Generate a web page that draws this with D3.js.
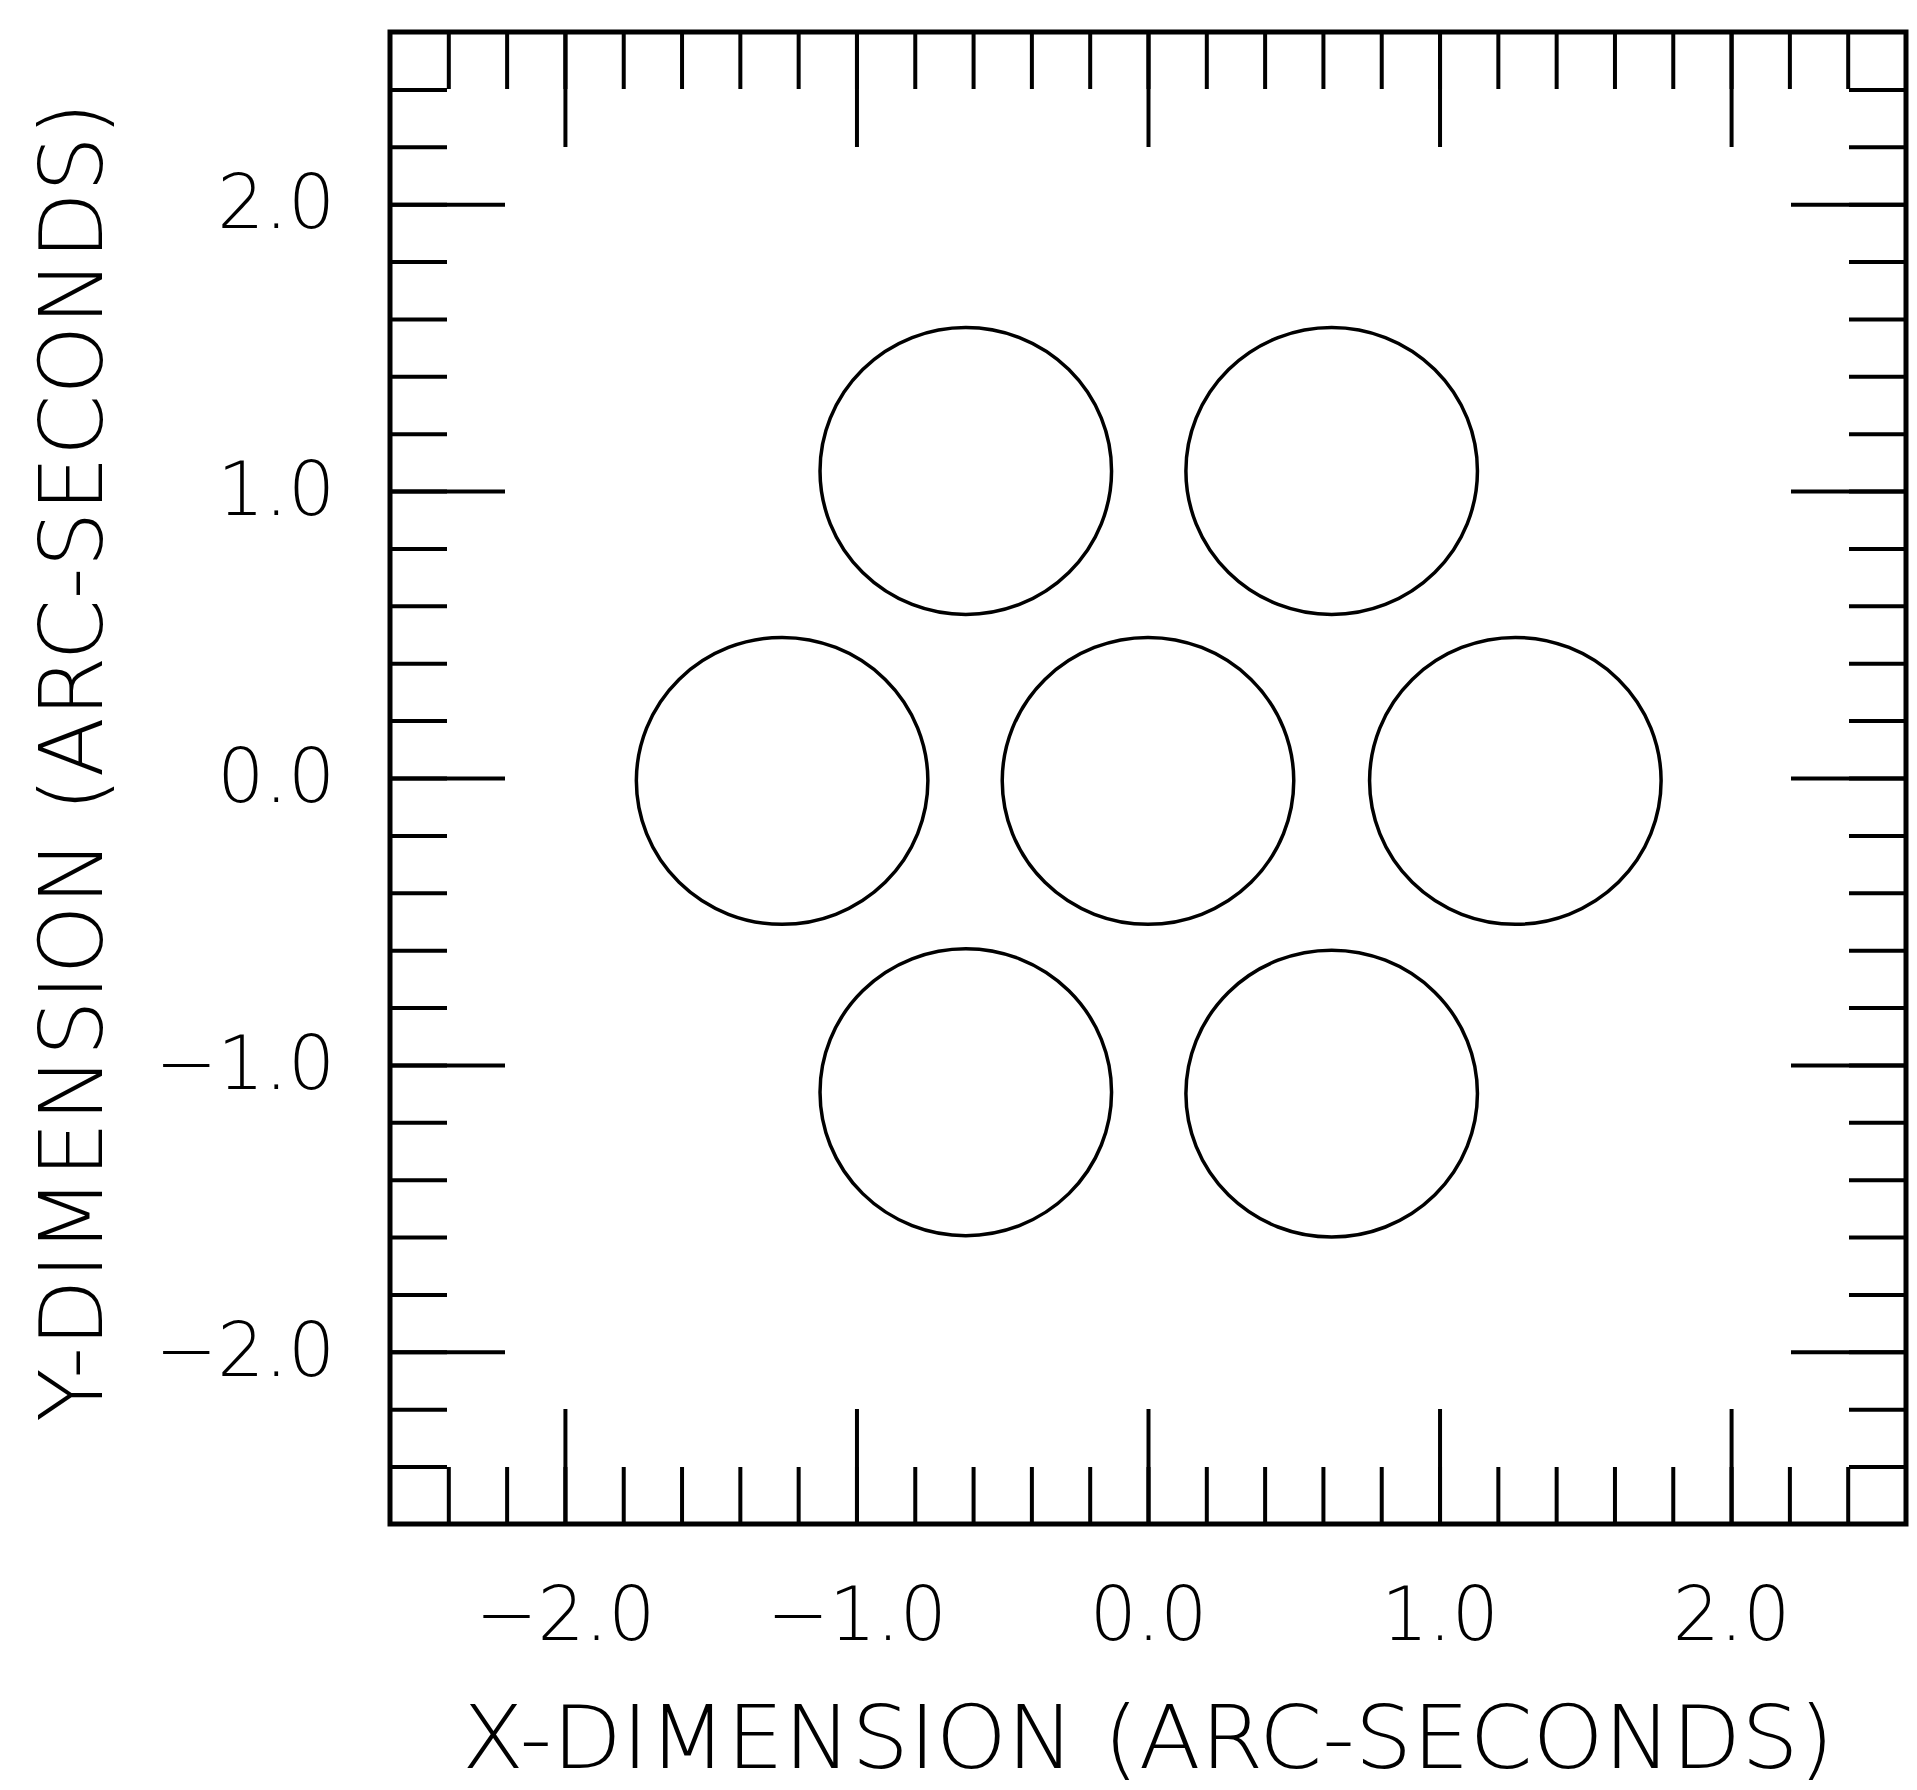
<!DOCTYPE html>
<html>
<head>
<meta charset="utf-8">
<script src="https://cdn.jsdelivr.net/npm/d3@7"></script>
<style>
  html, body { margin: 0; padding: 0; background: #fff; }
  svg { display: block; }
  .axis path { display: none; }
  .axis line { stroke: #000; stroke-width: 4; }
  .axis text, .title { font-family: "DejaVu Sans", sans-serif; font-weight: 200; fill: #000; }
</style>
</head>
<body>
<div id="chart"></div>
<script>
const W = 1917, H = 1790;

// aperture centres in arc-seconds
const circleX = [-0.625, 0.63, -1.255, 0.0, 1.26, -0.625, 0.63];
const circleY = [1.07, 1.07, -0.01, -0.01, -0.01, -1.095, -1.10];
const circleR = 0.5;

const xDomain = [-2.6, 2.6];
const yDomain = [-2.6, 2.6];
const majorTicks = [-2, -1, 0, 1, 2];
const tickLabels = ['\u22122.0', '\u22121.0', '0.0', '1.0', '2.0'];
const minorTicks = d3.range(-24, 25, 2).map((d) => d / 10);

const xTitle = 'X-DIMENSION (ARC-SECONDS)';
const yTitle = 'Y-DIMENSION (ARC-SECONDS)';

const MINOR = 57, MAJOR = 115;

const frame = { left: 390, right: 1906, top: 32, bottom: 1524 };

const x = d3.scaleLinear().domain(xDomain).range([frame.left, frame.right]);
const y = d3.scaleLinear().domain(yDomain).range([frame.bottom, frame.top]);

const svg = d3.select('#chart').append('svg')
  .attr('width', W)
  .attr('height', H);

const labelOf = (d) => tickLabels[majorTicks.indexOf(d)];

// minor ticks on all four sides, pointing inward
svg.append('g').attr('class', 'axis')
  .attr('transform', `translate(0,${frame.bottom})`)
  .call(d3.axisBottom(x).tickValues(minorTicks).tickSize(-MINOR).tickFormat(''));
svg.append('g').attr('class', 'axis')
  .attr('transform', `translate(0,${frame.top})`)
  .call(d3.axisTop(x).tickValues(minorTicks).tickSize(-MINOR).tickFormat(''));
svg.append('g').attr('class', 'axis')
  .attr('transform', `translate(${frame.left},0)`)
  .call(d3.axisLeft(y).tickValues(minorTicks).tickSize(-MINOR).tickFormat(''));
svg.append('g').attr('class', 'axis')
  .attr('transform', `translate(${frame.right},0)`)
  .call(d3.axisRight(y).tickValues(minorTicks).tickSize(-MINOR).tickFormat(''));

// major ticks, labelled on bottom and left
svg.append('g').attr('class', 'axis')
  .attr('transform', `translate(0,${frame.bottom})`)
  .call(d3.axisBottom(x).tickValues(majorTicks).tickSize(-MAJOR).tickPadding(63).tickFormat(labelOf))
  .selectAll('text').attr('font-size', 74);
svg.append('g').attr('class', 'axis')
  .attr('transform', `translate(0,${frame.top})`)
  .call(d3.axisTop(x).tickValues(majorTicks).tickSize(-MAJOR).tickFormat(''));
svg.append('g').attr('class', 'axis')
  .attr('transform', `translate(${frame.left},0)`)
  .call(d3.axisLeft(y).tickValues(majorTicks).tickSize(-MAJOR).tickPadding(55).tickFormat(labelOf))
  .selectAll('text').attr('font-size', 74);
svg.append('g').attr('class', 'axis')
  .attr('transform', `translate(${frame.right},0)`)
  .call(d3.axisRight(y).tickValues(majorTicks).tickSize(-MAJOR).tickFormat(''));

// frame
svg.append('rect')
  .attr('x', frame.left)
  .attr('y', frame.top)
  .attr('width', frame.right - frame.left)
  .attr('height', frame.bottom - frame.top)
  .attr('fill', 'none')
  .attr('stroke', '#000')
  .attr('stroke-width', 5);

// apertures
svg.append('g')
  .selectAll('ellipse')
  .data(circleX.map((cx, i) => ({ cx, cy: circleY[i] })))
  .join('ellipse')
  .attr('cx', (d) => x(d.cx))
  .attr('cy', (d) => y(d.cy))
  .attr('rx', x(circleR) - x(0))
  .attr('ry', y(0) - y(circleR))
  .attr('fill', 'none')
  .attr('stroke', '#000')
  .attr('stroke-width', 3.5);

// axis titles
svg.append('text')
  .attr('class', 'title')
  .attr('x', (frame.left + frame.right) / 2)
  .attr('y', 1768)
  .attr('text-anchor', 'middle')
  .attr('font-size', 88)
  .attr('textLength', 1372)
  .attr('lengthAdjust', 'spacingAndGlyphs')
  .text(xTitle);

svg.append('text')
  .attr('class', 'title')
  .attr('transform', 'translate(102,762) rotate(-90)')
  .attr('text-anchor', 'middle')
  .attr('font-size', 88)
  .attr('textLength', 1320)
  .attr('lengthAdjust', 'spacingAndGlyphs')
  .text(yTitle);
</script>
</body>
</html>
